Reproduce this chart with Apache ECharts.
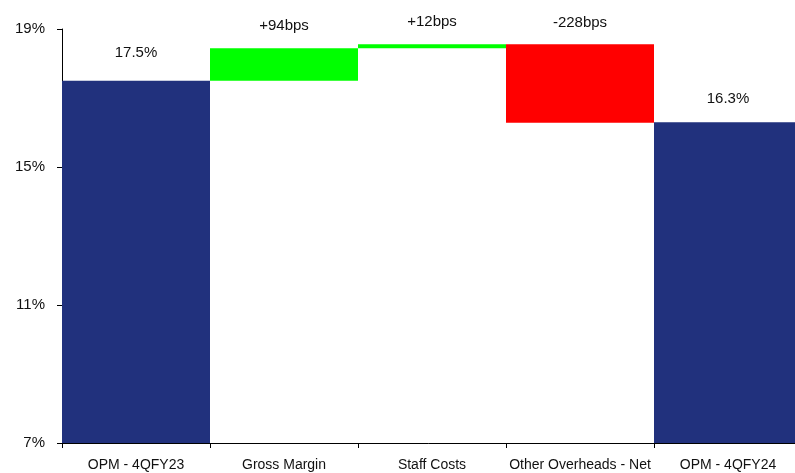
<!DOCTYPE html>
<html><head><meta charset="utf-8">
<script src="https://cdn.jsdelivr.net/npm/echarts@6/dist/echarts.min.js"></script>
<style>html,body{margin:0;padding:0;background:#fff}#c{width:795px;height:473px}</style>
</head><body><div id="c"></div>
<script>
const categories = ["OPM - 4QFY23", "Gross Margin", "Staff Costs", "Other Overheads - Net", "OPM - 4QFY24"];
const changes = [17.5, 0.94, 0.12, -2.28, 16.3];
const kinds = ["total", "delta", "delta", "delta", "total"];
const labels = ["17.5%", "+94bps", "+12bps", "-228bps", "16.3%"];
const yTicks = [7, 11, 15, 19];
const labelGaps = [20, 15, 15, 14, 16];

const base = [], vis = [];
let running = 0;
for (let i = 0; i < changes.length; i++) {
  if (kinds[i] === "total") {
    base.push(0);
    vis.push({value: changes[i], itemStyle: {color: "#21317D"}, label: {distance: labelGaps[i]}});
    running = changes[i];
  } else {
    const v = changes[i];
    const lo = v >= 0 ? running : running + v;
    base.push(lo);
    vis.push({value: Math.abs(v), itemStyle: {color: v >= 0 ? "#00FF00" : "#FF0000"}, label: {distance: labelGaps[i]}});
    running += v;
  }
}
const font = "Arial, 'Liberation Sans', sans-serif";
const chart = echarts.init(document.getElementById('c'));
chart.setOption({
  animation: false,
  grid: {left: 62, top: 29, width: 740, height: 414, outerBoundsMode: 'none', containLabel: false},
  xAxis: {
    type: 'category', data: categories,
    axisLine: {lineStyle: {color: '#000', width: 1}},
    axisTick: {show: true, length: 5, lineStyle: {color: '#000'}},
    axisLabel: {color: '#111', fontSize: 14, fontFamily: font, margin: 15, interval: 0}
  },
  yAxis: {
    type: 'value', min: 7, max: 19, interval: 4,
    axisLine: {show: true, lineStyle: {color: '#000'}},
    axisTick: {show: true, inside: false, length: 5, lineStyle: {color: '#000'}},
    splitLine: {show: false},
    axisLabel: {color: '#111', fontSize: 15, fontFamily: font, margin: 17,
      formatter: v => yTicks.includes(v) ? v + '%' : ''}
  },
  series: [
    {type: 'bar', stack: 'w', data: base, barWidth: '100%', itemStyle: {color: 'transparent'}, silent: true},
    {type: 'bar', stack: 'w', data: vis, barWidth: '100%',
      label: {show: true, position: 'top', color: '#111', fontSize: 15, fontFamily: font,
        formatter: p => labels[p.dataIndex]}}
  ]
});
</script></body></html>
